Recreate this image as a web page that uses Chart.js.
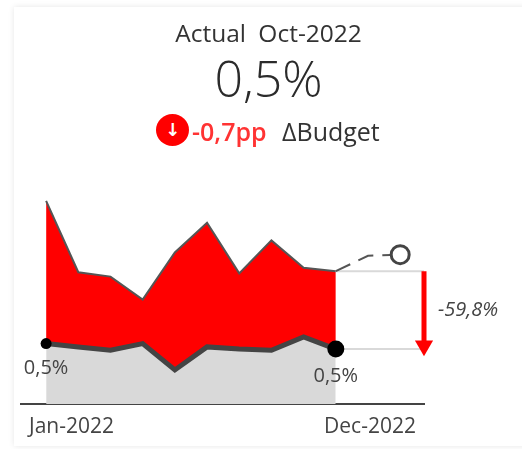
<!DOCTYPE html>
<html lang="en">
<head>
    <meta charset="UTF-8">
    <title>Actual Oct-2022</title>
    <style>
        * { margin: 0; padding: 0; box-sizing: border-box; }
        body {
            width: 522px;
            height: 449px;
            overflow: hidden;
            background: #fff;
            font-family: 'Open Sans', sans-serif;
            color: #333;
            position: relative;
        }
        .card {
            position: absolute;
            left: 14px;
            top: 7px;
            width: 530px;
            height: 439px;
            background: #fff;
            box-shadow: 0 0 6px rgba(0, 0, 0, 0.1);
        }
        canvas { position: absolute; left: 0; top: 0; }
        .head { position: absolute; left: 0; width: 537px; text-align: center; white-space: nowrap; }
        #title { top: 16px; font-size: 24.5px; word-spacing: 6px; }
        #value { top: 44px; font-size: 50px; font-weight: 300; color: #2b2b2b; }
        .delta { position: absolute; top: 114px; left: 156px; height: 32px; white-space: nowrap; }
        .delta span { position: absolute; top: 0; line-height: 34px; }
        .icon {
            left: 0;
            width: 33px;
            height: 32px;
            border-radius: 50%;
            background: #f00;
            color: #fff;
            text-align: center;
            font: bold 18px/31px 'DejaVu Sans', sans-serif !important;
        }
        #pp { left: 36px; color: #f33; font-size: 25px; font-weight: 600; }
        #budget { left: 126px; font-size: 25px; }
    </style>
</head>
<body>
    <div class="card"></div>
    <canvas id="chart" width="522" height="449"></canvas>
    <div class="head" id="title">Actual Oct-2022</div>
    <div class="head" id="value">0,5%</div>
    <div class="delta">
        <span class="icon">↓</span>
        <span id="pp">-0,7pp</span>
        <span id="budget">ΔBudget</span>
    </div>

    <script src="https://cdn.jsdelivr.net/npm/chart.js"></script>
    <script>
        const months = ['Jan-2022', 'Feb-2022', 'Mar-2022', 'Apr-2022', 'May-2022', 'Jun-2022', 'Jul-2022', 'Aug-2022', 'Sep-2022', 'Oct-2022', 'Nov-2022', 'Dec-2022'];
        const budget = [1.85, 1.20, 1.16, 0.95, 1.38, 1.65, 1.19, 1.49, 1.24, 1.21, 1.35, 1.36];
        const actual = [0.55, 0.52, 0.49, 0.55, 0.31, 0.52, 0.50, 0.49, 0.61, 0.50];
        const firstLabel = '0,5%';
        const lastLabel = '0,5%';
        const gapLabel = '-59,8%';

        const lastIdx = actual.length - 1;
        const xMin = -0.78;
        const xMax = 11.74;

        const toPoints = (arr) => arr.map((v, i) => ({ x: i, y: v }));

        // value labels next to the points, and the gap label beside the arrow
        const labelPlugin = {
            id: 'labels',
            afterDatasetsDraw(chart) {
                const { ctx, scales: { x, y } } = chart;
                ctx.save();
                ctx.textAlign = 'center';
                ctx.textBaseline = 'middle';
                ctx.fillStyle = '#444';
                ctx.font = "20px 'Open Sans', sans-serif";
                ctx.fillText(firstLabel, x.getPixelForValue(0), y.getPixelForValue(actual[0]) + 25);
                ctx.fillText(lastLabel, x.getPixelForValue(lastIdx), y.getPixelForValue(actual[lastIdx]) + 27);
                ctx.font = "italic 20px 'Open Sans', sans-serif";
                ctx.fillText(gapLabel, x.getPixelForValue(xMax) + 44, (y.getPixelForValue(actual[lastIdx]) + y.getPixelForValue(budget[lastIdx])) / 2);
                ctx.restore();
            }
        };

        new Chart(document.getElementById('chart'), {
            type: 'line',
            data: {
                datasets: [
                    // gap arrow
                    {
                        data: [{ x: xMax, y: budget[lastIdx] }, { x: xMax, y: actual[lastIdx] + 0.03 }],
                        borderColor: '#f00',
                        backgroundColor: '#f00',
                        borderWidth: 5,
                        pointStyle: 'triangle',
                        pointRotation: 180,
                        pointRadius: [0, 10.5],
                        pointBorderWidth: 0,
                        clip: false,
                        order: 1
                    },
                    // connectors from the last actual month to the arrow
                    {
                        data: [{ x: lastIdx, y: budget[lastIdx] }, { x: xMax, y: budget[lastIdx] }],
                        borderColor: '#d9d9d9',
                        borderWidth: 2,
                        pointRadius: 0,
                        order: 3
                    },
                    {
                        data: [{ x: lastIdx, y: actual[lastIdx] }, { x: xMax, y: actual[lastIdx] }],
                        borderColor: '#d9d9d9',
                        borderWidth: 2,
                        pointRadius: 0,
                        order: 3
                    },
                    // budget for the rest of the year
                    {
                        data: toPoints(budget).slice(lastIdx),
                        borderColor: '#555',
                        borderWidth: 2,
                        borderDash: [16, 9],
                        pointBackgroundColor: '#fff',
                        pointBorderColor: '#444',
                        pointBorderWidth: 3,
                        pointRadius: [0, 0, 9],
                        order: 2
                    },
                    // budget up to the current month, red down to actual
                    {
                        data: toPoints(budget).slice(0, lastIdx + 1),
                        borderColor: '#555',
                        borderWidth: 2,
                        pointRadius: 0,
                        fill: { target: 6, above: '#f00', below: '#f00' },
                        order: 5
                    },
                    // grey area below actual
                    {
                        data: toPoints(actual),
                        borderWidth: 0,
                        pointRadius: 0,
                        fill: { target: 'origin', above: '#d9d9d9' },
                        order: 6
                    },
                    // actual line, drawn on top of the areas
                    {
                        data: toPoints(actual),
                        borderColor: '#444',
                        backgroundColor: '#000',
                        borderWidth: 5,
                        pointBackgroundColor: '#000',
                        pointBorderWidth: 0,
                        pointRadius: actual.map((v, i) => i === 0 ? 5.5 : i === lastIdx ? 8.5 : 0),
                        order: 0
                    }
                ]
            },
            options: {
                responsive: false,
                animation: false,
                layout: { padding: { left: 21, right: 98, top: 180, bottom: 0 } },
                plugins: { legend: { display: false }, tooltip: { enabled: false } },
                scales: {
                    x: {
                        type: 'linear',
                        min: xMin,
                        max: xMax,
                        afterBuildTicks(scale) {
                            scale.ticks = [{ value: -0.53 }, { value: 11.49 }];
                        },
                        afterFit(scale) { scale.height = 45; },
                        grid: { display: false },
                        border: { color: '#444', width: 2 },
                        ticks: {
                            align: 'inner',
                            maxRotation: 0,
                            padding: 2,
                            color: '#444',
                            font: { family: "'Open Sans', sans-serif", size: 21 },
                            callback: (v, i) => i === 0 ? months[0] : months[months.length - 1]
                        }
                    },
                    y: { display: false, min: 0, max: 2.04 }
                }
            },
            plugins: [labelPlugin]
        });
    </script>
</body>
</html>
